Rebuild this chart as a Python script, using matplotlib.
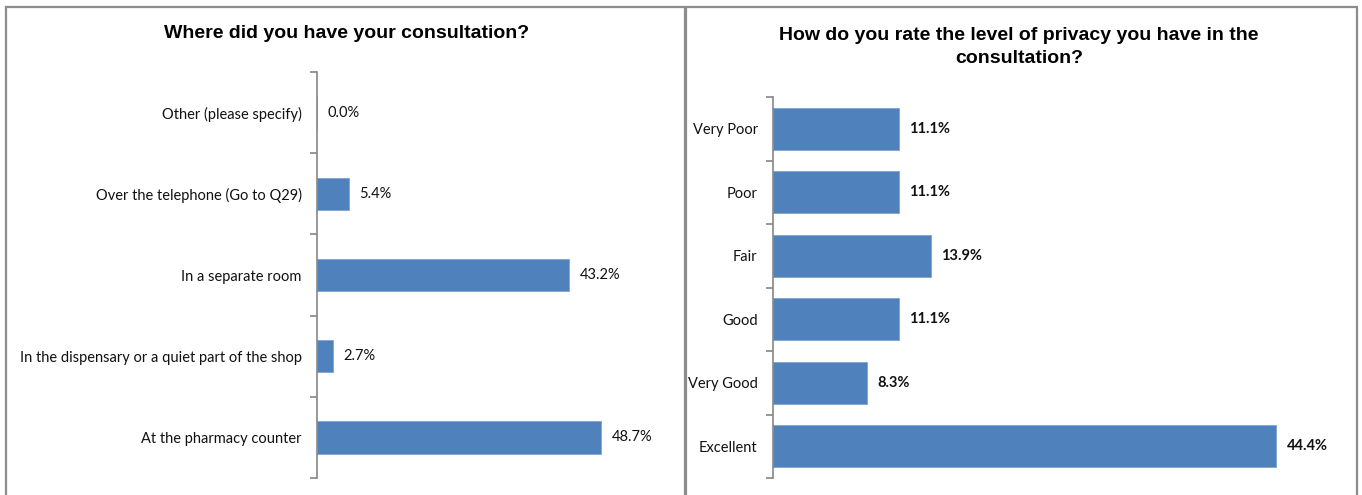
import numpy as np
import matplotlib
matplotlib.use("Agg")
import matplotlib.pyplot as plt
from matplotlib.patches import Rectangle

# left chart: where the consultation took place (top to bottom)
where_labels = ["Other (please specify)", "Over the telephone (Go to Q29)",
                "In a separate room", "In the dispensary or a quiet part of the shop",
                "At the pharmacy counter"]
where_pct = [0.0, 5.4, 43.2, 2.7, 48.7]

# right chart: privacy rating (top to bottom)
privacy_labels = ["Very Poor", "Poor", "Fair", "Good", "Very Good", "Excellent"]
privacy_pct = [11.1, 11.1, 13.9, 11.1, 8.3, 44.4]

W, H = 1362, 495
blue = "#4F81BD"
grey = "#868686"
label_font = ["Lato", "DejaVu Sans"]
title_font = ["Liberation Sans", "DejaVu Sans"]

fig = plt.figure(figsize=(W / 100, H / 100), dpi=100)

# panel frames
for x0, x1 in [(6, 685), (686, 1357)]:
    fig.add_artist(Rectangle((x0 / W, -0.1), (x1 - x0) / W, 1.1 - 7 / H,
                             transform=fig.transFigure, fill=False,
                             edgecolor="#8c8c8c", lw=1.6))


def bar_panel(rect, labels, vals, xmax, bar_h, bold_vals):
    ax = fig.add_axes(rect)
    n = len(labels)
    pos = np.arange(n)[::-1]
    ax.barh(pos, vals, height=bar_h, color=blue, edgecolor="#7fa3d0", lw=0.6)
    ax.set_xlim(0, xmax)
    ax.set_ylim(-0.5, n - 0.5)
    for s in ["top", "right", "bottom"]:
        ax.spines[s].set_visible(False)
    ax.spines["left"].set_color(grey)
    ax.spines["left"].set_linewidth(1.2)
    ax.set_xticks([])
    # ticks sit between categories, names sit on the bars
    ax.set_yticks(np.arange(n + 1) - 0.5)
    ax.set_yticklabels([])
    ax.tick_params(axis="y", which="major", length=5, color=grey, width=1.2)
    ax.set_yticks(pos, minor=True)
    ax.set_yticklabels(labels, minor=True, fontsize=10.5, family=label_font,
                       color="#111111")
    ax.tick_params(axis="y", which="minor", length=0, pad=11)
    for p, v in zip(pos, vals):
        ax.annotate(f"{v:.1f}%", (v, p), xytext=(7.5, 0), textcoords="offset points",
                    va="center", ha="left", fontsize=10.5, family=label_font,
                    fontweight="bold" if bold_vals else "normal", color="#111111")
    return ax


bar_panel([317 / W, 17 / H, 350 / W, 406 / H], where_labels, where_pct, 60, 0.4, False)
bar_panel([773 / W, 17 / H, 567 / W, 381 / H], privacy_labels, privacy_pct, 50, 0.66, True)

fig.text(347 / W, 1 - 33 / H, "Where did you have your consultation?",
         ha="center", va="center", fontsize=14, fontweight="bold", family=title_font)
fig.text(1019 / W, 1 - 47 / H,
         "How do you rate the level of privacy you have in the\nconsultation?",
         ha="center", va="center", fontsize=14, fontweight="bold", family=title_font,
         linespacing=1.45)

fig.savefig("out.png", dpi=100)
